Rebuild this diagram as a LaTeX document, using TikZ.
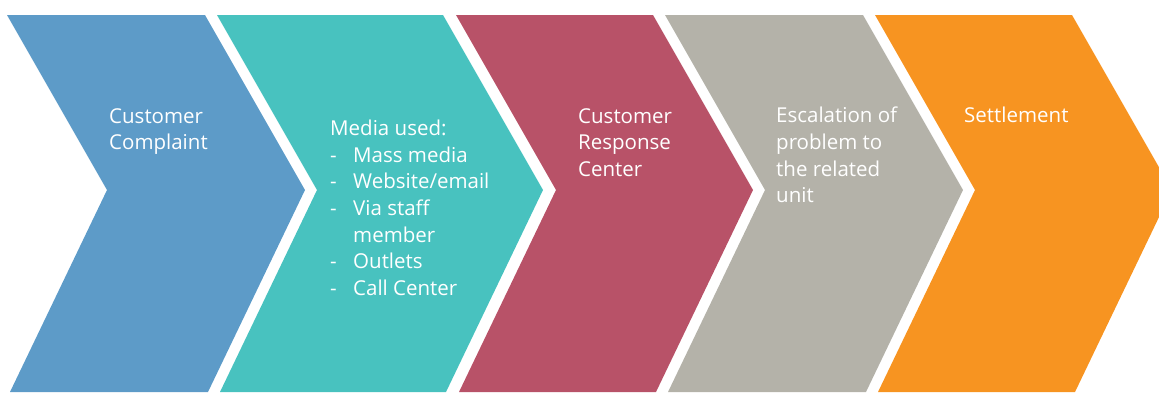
\documentclass[tikz,border=0pt]{standalone}
\usepackage{fontspec}
\setmainfont{Open Sans}
\definecolor{cblue}{RGB}{93,155,200}
\definecolor{cteal}{RGB}{72,194,191}
\definecolor{cred}{RGB}{184,82,104}
\definecolor{cgrey}{RGB}{180,178,169}
\definecolor{corange}{RGB}{247,148,33}
\newcommand\mychev[3]{\fill[#3] (#1,15) -- (#2,15) -- ({#2+100},190) -- ({#2+3},392) -- ({#1+3},392) -- ({#1+100},190) -- cycle;}
\newcommand\dashitem[1]{\makebox[23pt][l]{-}#1}
\begin{document}
\begin{tikzpicture}[x=1pt,y=-1pt,
  lbl/.style={anchor=north west, inner sep=0pt, align=left, text=white,
    font=\fontsize{20.5}{26.6}\selectfont}]
\useasboundingbox (0,0) rectangle (1159,392);
\clip (0,0) rectangle (1159,392);
\mychev{7}{205}{cblue}
\mychev{217}{443}{cteal}
\mychev{456}{653}{cred}
\mychev{665}{863}{cgrey}
\mychev{875}{1072}{corange}
\node[lbl] (t1) at (109,108) {Customer\\Complaint};
\node[lbl] (t2) at (330,120) {Media used:\\\dashitem{Mass media}\\\dashitem{Website/email}\\\dashitem{Via staff}\\\hspace*{23pt}member\\\dashitem{Outlets}\\\dashitem{Call Center}};
\node[lbl] (t3) at (578,108) {Customer\\Response\\Center};
\node[lbl] (t4) at (776,107) {Escalation of\\problem to\\the related\\unit};
\node[lbl] (t5) at (964,107) {Settlement};
\end{tikzpicture}
\end{document}
